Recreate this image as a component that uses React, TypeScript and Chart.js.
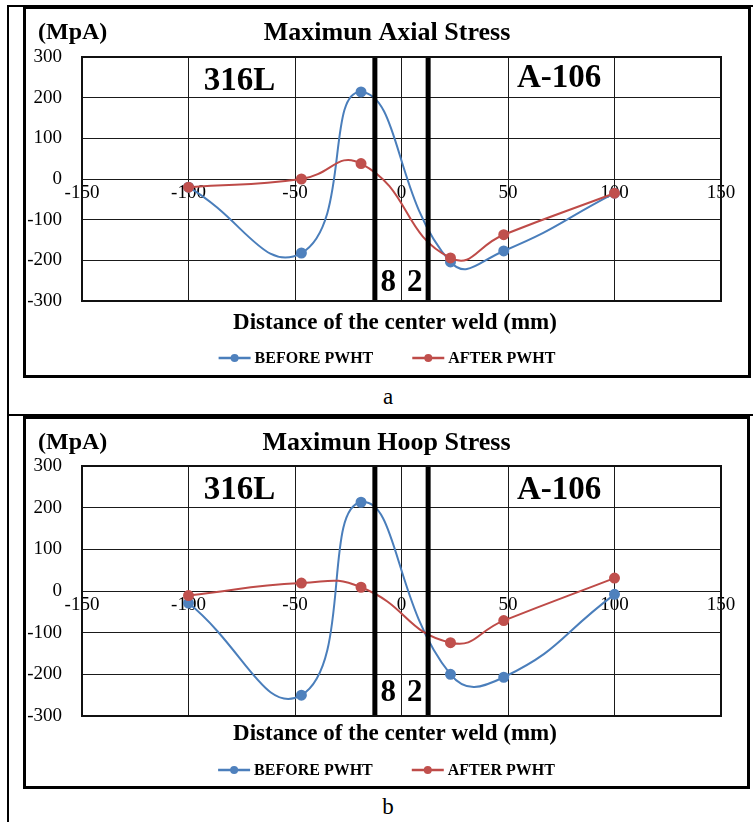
import React, { useEffect, useRef } from 'react';
import { Chart, registerables } from 'chart.js';

Chart.register(...registerables);

// ---------- data ----------
const seriesNames = ['BEFORE PWHT', 'AFTER PWHT'];
const xTickValues = [-150, -100, -50, 0, 50, 100, 150];
const yTickValues = [-300, -200, -100, 0, 100, 200, 300];
const distances = [-100, -47, -19, 23, 48, 100];
const axialBefore = [-20, -182, 214, -204, -177, -35];
const axialAfter = [-20, 0, 38, -194, -137, -35];
const hoopBefore = [-29, -250, 213, -200, -207, -8];
const hoopAfter = [-11, 19, 9, -124, -71, 31];
const weldLineX = [-12.5, 12.5];
const zoneLabels = ['316L', 'A-106'];
const zoneLabelX = [-76, 74];
const weldLabels = ['8', '2'];
const weldLabelX = [-6.25, 6.25];
const chartTitles = ['Maximun Axial Stress', 'Maximun Hoop Stress'];
const unitLabel = '(MpA)';
const xAxisTitle = 'Distance of the center weld (mm)';
const captions = ['a', 'b'];

// ---------- styles ----------
const SERIF = '"Liberation Serif", "Times New Roman", serif';
const BLUE = '#4F81BD';
const BLUE_LINE = '#4A7EBB';
const RED = '#C0504D';
const RED_LINE = '#BE4B48';

type Cfg = {
  frame: { left: number; top: number; width: number; height: number };
  pad: { top: number; right: number; bottom: number };
  title: string;
  before: number[];
  after: number[];
  zoneY: number[];
  weldY: number;
  titleY: number;
  axisTitleY: number;
  legendY: number;
};

const charts: Cfg[] = [
  {
    frame: { left: 23, top: 6, width: 728, height: 372 },
    pad: { top: 48, right: 27, bottom: 74 },
    title: chartTitles[0],
    before: axialBefore,
    after: axialAfter,
    zoneY: [240, 246],
    weldY: -255,
    titleY: 24,
    axisTitleY: 314,
    legendY: 349,
  },
  {
    frame: { left: 23, top: 416, width: 727, height: 373 },
    pad: { top: 47, right: 26, bottom: 70 },
    title: chartTitles[1],
    before: hoopBefore,
    after: hoopAfter,
    zoneY: [242, 242],
    weldY: -245,
    titleY: 24,
    axisTitleY: 315,
    legendY: 351,
  },
];

const overlayPlugin = {
  id: 'overlay',
  afterDatasetsDraw(chart: any, _args: any, opts: any) {
    const { ctx, chartArea } = chart;
    const { left, top, right, bottom } = chartArea;
    const xs = chart.scales.x;
    const ys = chart.scales.y;
    ctx.save();
    // weld fusion lines
    ctx.fillStyle = '#000';
    weldLineX.forEach((v) => {
      const px = xs.getPixelForValue(v);
      ctx.fillRect(px - 2.5, top, 5, bottom - top);
    });
    // plot border
    ctx.strokeStyle = '#111';
    ctx.lineWidth = 2;
    ctx.strokeRect(left, top, right - left, bottom - top);
    // zone labels
    ctx.fillStyle = '#000';
    ctx.textAlign = 'center';
    ctx.textBaseline = 'middle';
    ctx.font = `bold 33px ${SERIF}`;
    zoneLabels.forEach((t, i) => {
      ctx.fillText(t, xs.getPixelForValue(zoneLabelX[i]), ys.getPixelForValue(opts.zoneY[i]));
    });
    ctx.font = `bold 31px ${SERIF}`;
    weldLabels.forEach((t, i) => {
      ctx.fillText(t, xs.getPixelForValue(weldLabelX[i]), ys.getPixelForValue(opts.weldY));
    });
    ctx.restore();
  },
  afterDraw(chart: any, _args: any, opts: any) {
    const { ctx } = chart;
    const w = chart.width;
    ctx.save();
    ctx.fillStyle = '#000';
    ctx.textBaseline = 'middle';
    // title
    ctx.textAlign = 'center';
    ctx.font = `bold 26px ${SERIF}`;
    ctx.fillText(opts.title, w / 2, opts.titleY);
    // unit
    ctx.textAlign = 'left';
    ctx.font = `bold 24px ${SERIF}`;
    ctx.fillText(unitLabel, 12, opts.titleY);
    // axis title
    ctx.textAlign = 'center';
    ctx.font = `bold 23px ${SERIF}`;
    ctx.fillText(xAxisTitle, 369, opts.axisTitleY);
    // legend
    const ds = chart.data.datasets;
    ctx.font = `bold 16px ${SERIF}`;
    const lineLen = 32;
    const gapText = 4;
    const gapItem = 39;
    const widths = ds.map((d: any) => lineLen + gapText + ctx.measureText(d.label).width);
    const total = widths.reduce((a: number, b: number) => a + b, 0) + gapItem * (ds.length - 1);
    let x0 = w / 2 - total / 2;
    const ly = opts.legendY;
    ds.forEach((d: any, i: number) => {
      ctx.strokeStyle = d.borderColor;
      ctx.lineWidth = 2.5;
      ctx.beginPath();
      ctx.moveTo(x0, ly);
      ctx.lineTo(x0 + lineLen, ly);
      ctx.stroke();
      ctx.fillStyle = d.pointBackgroundColor;
      ctx.beginPath();
      ctx.arc(x0 + lineLen / 2, ly, 4, 0, Math.PI * 2);
      ctx.fill();
      ctx.fillStyle = '#000';
      ctx.textAlign = 'left';
      ctx.fillText(d.label, x0 + lineLen + gapText, ly + 1);
      x0 += widths[i] + gapItem;
    });
    ctx.restore();
  },
};

function StressChart({ cfg }: { cfg: Cfg }) {
  const ref = useRef<HTMLCanvasElement>(null);
  const cw = cfg.frame.width - 6;
  const ch = cfg.frame.height - 6;
  useEffect(() => {
    const tickFont = { family: SERIF, size: 19 };
    const chart = new Chart(ref.current as HTMLCanvasElement, {
      type: 'line',
      data: {
        datasets: [
          {
            label: seriesNames[0],
            data: distances.map((d, i) => ({ x: d, y: cfg.before[i] })),
            borderColor: BLUE_LINE,
            backgroundColor: BLUE,
            pointBackgroundColor: BLUE,
            pointBorderColor: BLUE,
            pointRadius: 4.5,
            borderWidth: 2,
            tension: 0.5,
            order: 1,
          },
          {
            label: seriesNames[1],
            data: distances.map((d, i) => ({ x: d, y: cfg.after[i] })),
            borderColor: RED_LINE,
            backgroundColor: RED,
            pointBackgroundColor: RED,
            pointBorderColor: RED,
            pointRadius: 4.5,
            borderWidth: 2,
            tension: 0.5,
            order: 0,
          },
        ],
      },
      options: {
        animation: false,
        responsive: false,
        maintainAspectRatio: false,
        layout: { padding: { left: 0, top: cfg.pad.top, right: cfg.pad.right, bottom: cfg.pad.bottom } },
        plugins: {
          legend: { display: false },
          tooltip: { enabled: false },
          title: { display: false },
          overlay: {
            title: cfg.title,
            zoneY: cfg.zoneY,
            weldY: cfg.weldY,
            titleY: cfg.titleY,
            axisTitleY: cfg.axisTitleY,
            legendY: cfg.legendY,
          },
        } as any,
        scales: {
          x: {
            type: 'linear',
            min: -150,
            max: 150,
            position: { y: 0 } as any,
            afterBuildTicks: (s: any) => {
              s.ticks = xTickValues.map((v) => ({ value: v }));
            },
            ticks: { font: tickFont, color: '#000', padding: 3, maxRotation: 0, autoSkip: false },
            grid: { color: '#1a1a1a', lineWidth: 1, drawTicks: false },
            border: { display: false },
          },
          y: {
            type: 'linear',
            min: -300,
            max: 300,
            afterBuildTicks: (s: any) => {
              s.ticks = yTickValues.map((v) => ({ value: v }));
            },
            afterFit: (s: any) => {
              s.width = 56;
            },
            ticks: { font: tickFont, color: '#000', padding: 20 },
            grid: { color: '#1a1a1a', lineWidth: 1, drawTicks: false },
            border: { display: false },
          },
        },
      },
      plugins: [overlayPlugin],
    } as any);
    return () => chart.destroy();
  }, []);
  return (
    <canvas
      ref={ref}
      width={cw}
      height={ch}
      style={{ position: 'absolute', left: cfg.frame.left + 3, top: cfg.frame.top + 3, width: cw, height: ch }}
    />
  );
}

export default function App() {
  const line = (l: number, t: number, w: number, h: number) => (
    <div style={{ position: 'absolute', left: l, top: t, width: w, height: h, background: '#000' }} />
  );
  return (
    <div style={{ position: 'absolute', left: 0, top: 0, width: 753, height: 822, background: '#fff', overflow: 'hidden' }}>
      {line(8, 5, 745, 2)}
      {line(7, 5, 2, 817)}
      {line(8, 414, 745, 2)}
      {charts.map((c, i) => (
        <React.Fragment key={i}>
          <div
            style={{
              position: 'absolute',
              left: c.frame.left,
              top: c.frame.top,
              width: c.frame.width,
              height: c.frame.height,
              border: '3px solid #000',
              boxSizing: 'border-box',
              background: '#fff',
            }}
          />
          <StressChart cfg={c} />
        </React.Fragment>
      ))}
      <div style={{ position: 'absolute', left: 338, top: 386, width: 100, textAlign: 'center', font: `23px/22px ${SERIF}`, color: '#000' }}>
        {captions[0]}
      </div>
      <div style={{ position: 'absolute', left: 338, top: 796, width: 100, textAlign: 'center', font: `23px/22px ${SERIF}`, color: '#000' }}>
        {captions[1]}
      </div>
    </div>
  );
}
